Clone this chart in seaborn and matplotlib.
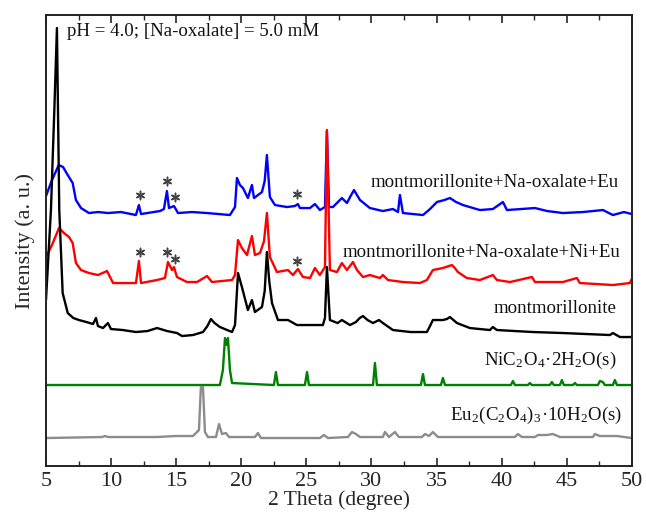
import numpy as np
import pandas as pd
import matplotlib
matplotlib.use("Agg")
import matplotlib.pyplot as plt
import seaborn as sns

# ==========================================
# XRD patterns (2 theta in degree, stacked intensity in a. u.)
# ==========================================

mont_x = [5.00, 5.38, 5.64, 5.84, 6.02, 6.28, 6.67, 7.10, 7.53, 8.10, 8.61, 8.84, 8.99, 9.38, 9.76,
          9.99, 10.90, 11.91, 12.80, 13.53, 14.30, 15.06, 15.45, 16.29, 16.80, 17.06, 17.40,
          17.67, 17.95, 18.36, 19.29, 19.52, 19.75, 20.05, 20.51, 20.82, 21.05, 21.59, 21.80,
          21.97, 22.15, 22.36, 22.82, 23.59, 24.28, 25.51, 26.27, 26.43, 26.58, 26.81, 27.40,
          27.73, 28.35, 28.81, 29.10, 29.35, 29.70, 30.12, 30.58, 30.88, 31.65, 33.00, 34.26,
          34.50, 34.72, 35.49, 35.80, 36.03, 36.30, 36.57, 37.56, 39.10, 39.33, 39.64, 41.00,
          42.40, 44.71, 46.50, 48.32, 48.55, 49.09, 50.00]
mont_y = [166, 256, 356, 438, 256, 173, 153, 148, 146, 144, 142, 148, 140, 138, 143,
          137, 136, 134, 135, 138, 135, 133, 130, 131, 133, 134, 140,
          147, 143, 139, 134, 141, 193, 179, 156, 166, 154, 159, 175,
          214, 185, 163, 146, 146, 141, 141, 141, 148, 199, 146, 143,
          146, 141, 144, 148, 150, 146, 143, 146, 143, 136, 134, 134,
          140, 146, 146, 147, 149, 146, 143, 138, 136, 139, 136, 135,
          134, 133, 132, 131, 133, 129, 129]

eu_x = [5.00, 5.46, 5.98, 6.31, 6.67, 7.05, 7.30, 7.69, 8.30, 9.00, 9.76, 10.76, 11.91, 12.14,
        12.30, 13.76, 14.06, 14.29, 14.45, 14.83, 15.14, 16.21, 17.37, 19.13, 19.52, 19.67,
        19.90, 20.13, 20.51, 20.82, 20.98, 21.59, 21.80, 21.97, 22.20, 22.59, 23.51, 24.12,
        24.35, 24.51, 25.28, 25.66, 26.04, 26.43, 26.58, 26.74, 27.04, 27.73, 28.12, 28.40,
        28.66, 29.12, 29.88, 30.88, 31.65, 32.04, 32.19, 32.42, 33.96, 34.50, 35.03, 35.60,
        36.03, 36.50, 37.03, 38.33, 39.33, 40.10, 40.41, 41.50, 42.56, 43.50, 44.71, 46.24,
        47.78, 48.55, 49.40, 50.00]
eu_y = [270, 286, 301, 299, 291, 283, 266, 258, 253, 254, 253, 254, 251, 261,
        252, 255, 257, 275, 258, 260, 253, 254, 253, 251, 259, 288,
        281, 278, 268, 281, 268, 274, 285, 311, 269, 261, 259, 260,
        262, 258, 258, 262, 256, 259, 335, 259, 259, 268, 263, 270,
        276, 266, 258, 255, 257, 254, 271, 253, 251, 257, 264, 266,
        268, 264, 261, 256, 257, 264, 256, 257, 258, 255, 253, 254,
        256, 251, 254, 252]

nieu_x = [5.00, 5.46, 6.00, 6.38, 6.77, 7.05, 7.30, 7.69, 8.30, 9.00, 9.69, 10.15, 11.91, 12.14,
          12.30, 13.53, 14.14, 14.37, 14.68, 14.83, 15.06, 15.83, 16.60, 17.37, 17.75, 19.29,
          19.52, 19.75, 20.05, 20.44, 20.82, 21.05, 21.44, 21.75, 21.97, 22.20, 22.74, 23.59,
          23.97, 24.35, 24.74, 25.28, 25.66, 26.04, 26.43, 26.58, 26.81, 27.35, 27.73, 28.12,
          28.58, 28.89, 29.35, 29.88, 30.65, 30.88, 31.27, 32.42, 33.73, 34.26, 34.72, 35.49,
          36.18, 36.41, 36.64, 37.33, 38.33, 39.33, 39.64, 40.64, 42.33, 42.56, 44.71, 45.78,
          46.01, 48.55, 49.85, 50.00]
nieu_y = [209, 221, 238, 233, 229, 223, 203, 196, 193, 191, 195, 183, 183, 205,
          183, 186, 188, 204, 196, 199, 189, 184, 184, 190, 184, 186,
          191, 226, 218, 211, 230, 211, 213, 225, 253, 209, 194, 196,
          191, 197, 189, 188, 198, 191, 199, 336, 196, 194, 203, 196,
          204, 196, 189, 191, 188, 191, 186, 184, 183, 186, 196, 198,
          201, 198, 194, 188, 186, 191, 186, 184, 189, 184, 184, 188,
          183, 181, 183, 187]

ni_x = [5.00, 18.36, 18.59, 18.75, 18.90, 18.98, 19.13, 19.29, 22.51, 22.66, 22.82, 24.89, 25.05,
        25.20, 30.12, 30.27, 30.42, 33.80, 33.96, 34.11, 35.34, 35.49, 35.65, 40.71, 40.87,
        41.02, 42.02, 42.17, 42.32, 43.71, 43.86, 44.01, 44.48, 44.63, 44.78, 45.48, 45.63,
        45.78, 47.40, 47.55, 47.78, 47.93, 48.55, 48.70, 48.86, 50.00]
ni_y = [81, 81, 96, 128, 121, 128, 96, 83, 81, 94, 81, 81, 94,
        81, 81, 103, 81, 81, 92, 81, 81, 88, 81, 81, 85,
        81, 81, 83, 81, 81, 84, 81, 81, 86, 81, 81, 83,
        81, 81, 85, 84, 81, 81, 86, 81, 81]

euox_x = [5.00, 9.30, 9.53, 9.76, 13.50, 14.98, 16.29, 16.75, 16.90, 17.06, 17.21, 17.44, 18.06,
          18.29, 18.52, 18.82, 19.06, 21.05, 21.28, 21.51, 26.04, 26.35, 26.66, 28.20, 28.50,
          28.81, 29.12, 30.88, 31.04, 31.35, 31.80, 32.11, 33.88, 34.11, 34.42, 34.72, 35.11,
          41.02, 41.25, 41.56, 42.56, 42.79, 43.48, 43.94, 44.48, 47.01, 47.17, 47.55, 48.86, 50.00]
euox_y = [28, 29, 30, 29, 29, 30, 30, 36, 79, 79, 34, 29, 29,
          42, 32, 33, 29, 29, 33, 28, 28, 31, 28, 29, 34,
          32, 29, 29, 34, 29, 34, 29, 29, 32, 30, 34, 29,
          29, 32, 29, 29, 31, 31, 32, 29, 29, 32, 30, 30, 28]

labels = ["montmorillonite+Na-oxalate+Eu",
          "montmorillonite+Na-oxalate+Ni+Eu",
          "montmorillonite",
          r"NiC$_\mathregular{2}$O$_\mathregular{4}$·2H$_\mathregular{2}$O(s)",
          r"Eu$_\mathregular{2}$(C$_\mathregular{2}$O$_\mathregular{4}$)$_\mathregular{3}$·10H$_\mathregular{2}$O(s)"]
colors = ["#0000ff", "#ff0000", "#000000", "#008000", "#8c8c8c"]
series = [(eu_x, eu_y), (nieu_x, nieu_y), (mont_x, mont_y), (ni_x, ni_y), (euox_x, euox_y)]

# label anchor (right edge, y) for each pattern
label_pos = [(49.0, 284), (49.1, 214), (48.8, 158), (48.8, 106), (49.3, 51)]

# asterisks (oxalate phase peaks)
star_x = [12.2, 14.3, 14.9, 24.3]
star_eu_y = [271, 285, 269, 272]
star_nieu_y = [214, 214, 207, 205]

# ==========================================
# Plot
# ==========================================

sns.set_theme(style="ticks")
plt.rcParams["font.family"] = ["Liberation Serif", "DejaVu Serif"]
plt.rcParams["mathtext.fontset"] = "stix"

fig = plt.figure(figsize=(6.46, 5.15), dpi=100)
ax = fig.add_axes([0.0712, 0.0951, 0.9068, 0.8757])

for (xs, ys), c in zip(series, colors):
    df = pd.DataFrame({"theta": xs, "I": ys})
    sns.lineplot(data=df, x="theta", y="I", color=c, lw=1.7, ax=ax,
                 estimator=None, sort=False)

for (lx, ly), lab in zip(label_pos, labels):
    ax.text(lx, ly, lab, ha="right", va="center", fontsize=13.6, color="#111111")

# asterisks drawn as markers so close pairs do not collide as text boxes
ax.scatter(star_x, star_eu_y, marker=(6, 2, 0), s=36, color="#444444", lw=1.1)
ax.scatter(star_x, star_nieu_y, marker=(6, 2, 0), s=36, color="#444444", lw=1.1)

ax.text(6.6, 435, "pH = 4.0; [Na-oxalate] = 5.0 mM", ha="left", va="center",
        fontsize=13.6, color="#111111")

ax.set_xlim(5, 50)
ax.set_ylim(0, 451)
ax.set_xticks(np.arange(5, 51, 5))
ax.set_xticks(np.arange(5, 50.1, 2.5), minor=True)
ax.set_yticks([])
ax.tick_params(axis="x", which="major", direction="in", length=6, width=1.2,
               top=True, labelsize=16, pad=4)
ax.tick_params(axis="x", which="minor", direction="in", length=3.5, width=1.0, top=True)
for s in ax.spines.values():
    s.set_linewidth(1.4)
    s.set_color("#222222")

ax.set_xlabel("2 Theta (degree)", fontsize=15.5, labelpad=0)
ax.set_ylabel("Intensity (a. u.)", fontsize=16, labelpad=8)

fig.savefig("out.png", dpi=100)
